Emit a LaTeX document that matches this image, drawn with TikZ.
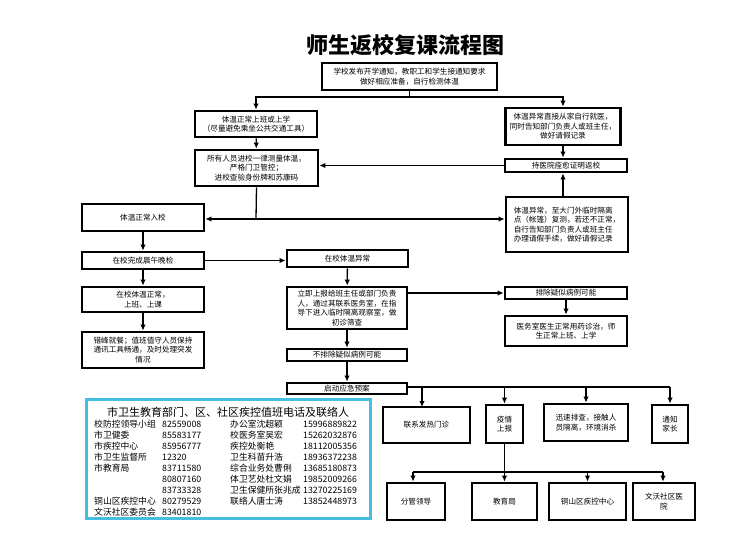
\documentclass[tikz,border=0pt]{standalone}
\usepackage{fontspec}
\setmainfont{Noto Sans CJK SC}
\usepackage{tikz}
\usetikzlibrary{arrows.meta}

\tikzset{
  box/.style={draw, line width=2.8pt, align=center, inner sep=1pt,
    font=\fontsize{7.6}{9.5}\selectfont},
  con/.style={line width=1.3pt},
  arr/.style={con, -{Latex[length=6pt,width=5.5pt]}},
  tel/.style={anchor=west, inner sep=0pt, font=\fontsize{8.8}{9}\selectfont}
}

\begin{document}
\begin{tikzpicture}[x=1pt,y=-1pt]
  \useasboundingbox (0,0) rectangle (752,554);
  \node (title) at (405,45) {\fontsize{22}{22}\selectfont\bfseries 师生返校复课流程图};

  % upper part
  \node[box, minimum width=175, minimum height=27] (notice) at (409.5,76.5)
    {学校发布开学通知，教职工和学生接通知要求\\做好相应准备，自行检测体温};
  \node[box, minimum width=122, minimum height=26] (normal) at (256,124)
    {体温正常上班或上学\\（尽量避免乘坐公共交通工具）};
  \node[box, minimum width=115, minimum height=37] (home) at (563,126.5)
    {体温异常直接从家自行就医，\\同时告知部门负责人或班主任，\\做好请假记录};
  \node[box, minimum width=123, minimum height=36] (check) at (256.5,168)
    {所有人员进校一律测量体温，\\严格门卫管控；\\进校查验身份牌和苏康码};
  \node[box, minimum width=122, minimum height=13] (cert) at (566,165.5) {持医院痊愈证明返校};
  \node[box, minimum width=122, minimum height=27] (enter) at (143,217.5) {体温正常入校};
  \node[box, minimum width=122, minimum height=55, align=left] (gate) at (567,224.5)
    {体温异常，至大门外临时隔离\\点（帐篷）复测，若还不正常，\\自行告知部门负责人或班主任\\办理请假手续，做好请假记录};

  % school part
  \node[box, minimum width=122, minimum height=17] (daily) at (143,260.5) {在校完成晨午晚检};
  \node[box, minimum width=121, minimum height=17] (abn) at (347.5,258.5) {在校体温异常};
  \node[box, minimum width=122, minimum height=25] (ok) at (143,299.5) {在校体温正常，\\上班、上课};
  \node[box, minimum width=122, minimum height=36] (meal) at (143,350)
    {错峰就餐；值班值守人员保持\\通讯工具畅通，及时处理突发\\情况};
  \node[box, minimum width=120, minimum height=42] (report) at (347,308)
    {立即上报给班主任或部门负责\\人，通过其联系医务室，在指\\导下进入临时隔离观察室，做\\初诊筛查};
  \node[box, minimum width=122, minimum height=12] (excl) at (566,293) {排除疑似病例可能};
  \node[box, minimum width=122, minimum height=30] (clinic) at (566,331)
    {医务室医生正常用药诊治，师\\生正常上班、上学};
  \node[box, minimum width=120, minimum height=12] (notex) at (347,355) {不排除疑似病例可能};
  \node[box, minimum width=120, minimum height=11] (plan) at (347,388.5) {启动应急预案};

  % emergency part
  \node[box, minimum width=87, minimum height=36] (fever) at (426.5,425) {联系发热门诊};
  \node[box, minimum width=37, minimum height=38] (up) at (504.5,424) {疫情\\上报};
  \node[box, minimum width=84, minimum height=37] (screen) at (586,422.5)
    {迅速排查，接触人\\员隔离，环境消杀};
  \node[box, minimum width=36, minimum height=38] (parent) at (670,424) {通知\\家长};
  \node[box, minimum width=58, minimum height=37] (lead) at (416,501.5) {分管领导};
  \node[box, minimum width=65, minimum height=37] (edu) at (504.5,501.5) {教育局};
  \node[box, minimum width=77, minimum height=37] (cdc) at (587.5,501.5) {铜山区疾控中心};
  \node[box, minimum width=62, minimum height=37] (comm) at (664,501.5) {文沃社区医\\院};

  % connectors
  \coordinate (t) at (409.5,97);
  \draw[con] (notice.south) -- (t);
  \draw[arr] (t) -| (normal.north);
  \draw[arr] (t) -| (home.north);
  \draw[arr] (normal) -- (check);
  \draw[arr] (home) -- (home |- cert.north);
  \draw[arr] (cert.west) -- (check.east |- cert.west);
  \draw[arr] (gate.north -| home) -- (home |- cert.south);
  \coordinate (j) at (256,219);
  \draw[con] (check.south) -- (j);
  \draw[arr] (j) -- (enter.east |- j);
  \draw[arr] (j) -- (gate.west |- j);
  \draw[arr] (enter) -- (daily);
  \draw[arr] (daily.east) -- (abn.west |- daily.east);
  \draw[arr] (daily) -- (ok);
  \draw[arr] (ok) -- (meal);
  \draw[arr] (abn) -- (report);
  \draw[arr] (report.east |- excl.west) -- (excl.west);
  \draw[arr] (excl) -- (clinic);
  \draw[arr] (report) -- (notex);
  \draw[arr] (notex) -- (plan);
  \coordinate (e) at (670,387);
  \draw[con] (plan.east |- e) -- (e);
  \draw[arr] (422,387) -- (422,407);
  \draw[arr] (up.north |- e) -- (up.north);
  \draw[arr] (screen.north |- e) -- (screen.north);
  \draw[arr] (e) -- (parent.north);
  \coordinate (f) at (413,472);
  \draw[con] (f) -- (663,472);
  \draw[arr] (up) -- (edu);
  \draw[arr] (f) -- (lead.north -| f);
  \draw[arr] (cdc.north |- f) -- (cdc.north);
  \draw[arr] (663,472) -- (comm.north -| 663,0);

  % contacts
  \draw[line width=3pt, color={rgb,255:red,70;green,190;blue,225}] (86,399) rectangle (370,518);
  \node (head) at (228,412) {\fontsize{11}{11}\selectfont 市卫生教育部门、区、社区疾控值班电话及联络人};
  \foreach \n/\p [count=\i] in {校防控领导小组/82559008, 市卫健委/85583177, 市疾控中心/85956777,
      市卫生监督所/12320, 市教育局/83711580, {}/80807160, {}/83733328,
      铜山区疾控中心/80279529, 文沃社区委员会/83401810}
  {
    \node[tel] (a\i) at (94,{413+11*\i}) {\n};
    \node[tel] (b\i) at (162,{413+11*\i}) {\p};
  }
  \foreach \n/\p [count=\i] in {办公室沈超颖/15996889822, 校医务室吴宏/15262032876,
      疾控处衡艳/18112005356, 卫生科苗升浩/18936372238, 综合业务处曹俐/13685180873,
      体卫艺处杜文娟/19852009266, 卫生保健所张兆成/13270225169, 联络人唐士涛/13852448973}
  {
    \node[tel] (c\i) at (230,{413+11*\i}) {\n};
    \node[tel] (d\i) at (303,{413+11*\i}) {\p};
  }
\end{tikzpicture}
\end{document}
